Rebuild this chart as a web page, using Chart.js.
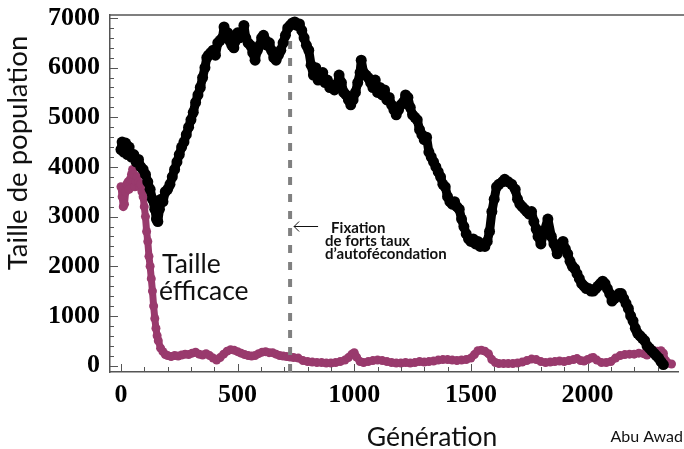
<!DOCTYPE html>
<html>
<head>
<meta charset="utf-8">
<script src="https://cdn.jsdelivr.net/npm/chart.js@4/dist/chart.umd.min.js"></script>
<style>
  html, body { margin: 0; padding: 0; background: #fff; }
  #chart { display: block; }
</style>
</head>
<body>
<canvas id="chart" width="684" height="449"></canvas>
<script>
// Census size (black) and effective size (purple) per generation
const censusGen = [0, 5, 12, 20, 28, 35, 45, 55, 65, 75, 85, 95, 105, 115, 125, 135, 145, 152, 158, 165, 172, 180, 190, 200, 210, 220, 230, 240, 250, 260, 270, 280, 290, 300, 310, 320, 330, 340, 350, 360, 368, 375, 385, 395, 405, 415, 425, 435, 442, 450, 458, 465, 475, 484, 492, 500, 508, 516, 527, 535, 545, 555, 565, 575, 585, 595, 603, 611, 620, 628, 636, 645, 655, 665, 675, 685, 695, 705, 715, 725, 735, 745, 755, 765, 775, 785, 795, 805, 815, 825, 835, 845, 855, 865, 875, 885, 895, 905, 915, 925, 935, 945, 955, 965, 975, 985, 995, 1005, 1015, 1025, 1030, 1040, 1050, 1060, 1070, 1080, 1090, 1100, 1110, 1120, 1130, 1140, 1150, 1160, 1170, 1180, 1190, 1200, 1210, 1220, 1230, 1240, 1250, 1260, 1270, 1280, 1290, 1300, 1310, 1320, 1330, 1340, 1350, 1360, 1370, 1380, 1390, 1400, 1410, 1420, 1430, 1440, 1450, 1460, 1470, 1480, 1490, 1500, 1510, 1520, 1530, 1540, 1550, 1560, 1570, 1580, 1590, 1600, 1610, 1620, 1635, 1645, 1660, 1675, 1690, 1700, 1710, 1720, 1730, 1740, 1750, 1760, 1770, 1780, 1788, 1800, 1814, 1830, 1845, 1856, 1870, 1885, 1895, 1905, 1915, 1925, 1935, 1945, 1955, 1965, 1975, 1985, 1995, 2005, 2015, 2025, 2035, 2045, 2055, 2065, 2075, 2085, 2095, 2105, 2115, 2125, 2135, 2145, 2155, 2165, 2175, 2185, 2195, 2205, 2215, 2225, 2235, 2245, 2255, 2265, 2275, 2285, 2295, 2305, 2315, 2325];
const censusSize = [4350, 4500, 4300, 4480, 4250, 4400, 4200, 4250, 4100, 4150, 4000, 3950, 3850, 3700, 3550, 3350, 3150, 2950, 2900, 3150, 3350, 3300, 3500, 3550, 3650, 3800, 3950, 4100, 4250, 4400, 4500, 4650, 4800, 4950, 5100, 5300, 5450, 5600, 5800, 6000, 6200, 6250, 6300, 6350, 6250, 6500, 6550, 6600, 6820, 6600, 6700, 6550, 6450, 6400, 6550, 6700, 6600, 6650, 6850, 6600, 6500, 6450, 6300, 6150, 6350, 6450, 6600, 6650, 6550, 6450, 6500, 6350, 6200, 6150, 6250, 6350, 6500, 6650, 6800, 6850, 6900, 6920, 6850, 6880, 6750, 6600, 6450, 6350, 6050, 5850, 6000, 5750, 5850, 5900, 5700, 5750, 5600, 5650, 5550, 5600, 5850, 5700, 5500, 5450, 5350, 5250, 5350, 5500, 5700, 5900, 6150, 5900, 5850, 5800, 5700, 5600, 5750, 5500, 5600, 5450, 5550, 5350, 5400, 5250, 5150, 5050, 5150, 5250, 5300, 5450, 5400, 5200, 5050, 5000, 4950, 4750, 4650, 4550, 4600, 4300, 4200, 4100, 4000, 3900, 3800, 3650, 3600, 3400, 3300, 3250, 3300, 3200, 3150, 2950, 2800, 2650, 2550, 2500, 2550, 2450, 2500, 2400, 2450, 2400, 2500, 2700, 3100, 3350, 3600, 3650, 3700, 3750, 3700, 3650, 3550, 3350, 3250, 3200, 3150, 3100, 3050, 3100, 2900, 2750, 2600, 2450, 2700, 2950, 2600, 2450, 2250, 2450, 2500, 2350, 2250, 2100, 2000, 1950, 1850, 1750, 1650, 1600, 1550, 1550, 1500, 1500, 1550, 1600, 1650, 1700, 1650, 1550, 1450, 1300, 1350, 1400, 1450, 1450, 1350, 1250, 1150, 1000, 900, 750, 650, 600, 550, 500, 400, 350, 300, 250, 200, 150, 80, 20, 0];

const effGen = [0, 5, 10, 15, 20, 25, 30, 35, 40, 45, 50, 55, 60, 65, 70, 75, 80, 85, 90, 95, 100, 105, 110, 115, 120, 125, 130, 135, 140, 145, 150, 155, 160, 170, 180, 190, 200, 215, 230, 245, 260, 275, 290, 305, 320, 335, 350, 365, 380, 395, 410, 425, 440, 455, 470, 485, 500, 515, 530, 545, 560, 575, 590, 605, 620, 635, 650, 665, 680, 695, 710, 725, 740, 760, 780, 800, 820, 840, 860, 880, 900, 920, 940, 960, 975, 990, 1000, 1010, 1025, 1040, 1060, 1080, 1100, 1120, 1140, 1160, 1180, 1200, 1220, 1240, 1260, 1280, 1300, 1320, 1340, 1360, 1380, 1400, 1420, 1440, 1460, 1480, 1500, 1515, 1530, 1545, 1560, 1575, 1590, 1605, 1620, 1640, 1660, 1680, 1700, 1720, 1740, 1760, 1780, 1800, 1820, 1840, 1860, 1880, 1900, 1920, 1940, 1955, 1970, 1985, 2000, 2015, 2025, 2040, 2060, 2080, 2100, 2120, 2140, 2160, 2180, 2200, 2220, 2240, 2255, 2270, 2285, 2300, 2315, 2325, 2335, 2345, 2360];
const effSize = [3600, 3400, 3200, 3250, 3500, 3650, 3700, 3550, 3750, 3850, 3950, 3850, 3600, 3700, 3800, 3700, 3600, 3650, 3500, 3400, 3200, 3000, 2700, 2500, 2200, 2000, 1750, 1500, 1200, 950, 750, 600, 500, 350, 280, 220, 200, 180, 200, 190, 210, 230, 220, 250, 270, 230, 210, 240, 200, 150, 110, 160, 230, 290, 320, 310, 280, 250, 220, 200, 190, 200, 240, 270, 280, 260, 260, 230, 200, 190, 180, 170, 160, 150, 100, 80, 70, 60, 60, 50, 50, 60, 80, 110, 160, 230, 260, 170, 80, 60, 80, 100, 110, 100, 80, 60, 50, 50, 60, 50, 60, 80, 70, 80, 90, 110, 120, 120, 110, 100, 110, 120, 150, 220, 300, 310, 290, 240, 120, 60, 40, 40, 40, 40, 50, 70, 100, 130, 120, 80, 60, 70, 80, 90, 80, 100, 120, 140, 100, 90, 120, 150, 160, 110, 60, 60, 80, 150, 200, 220, 230, 230, 250, 240, 210, 280, 300, 290, 300, 250, 100, 50, 30];

// Dashed marker: generation of fixation, drawn up to where it disappears under the census curve
const fixationGen = 725;
const fixationTop = 6600;
const xTicksLabelled = [0, 500, 1000, 1500, 2000];
const yTicksLabelled = [0, 1000, 2000, 3000, 4000, 5000, 6000, 7000];
const X_MINOR = 100, X_LAST = 2300;
const Y_MINOR = 200, Y_LAST = 7000;

const X_MIN = -47, X_MAX = 2390, Y_MIN = -130, Y_MAX = 7060;
const AXIS_COLOR = '#555';
const PURPLE = '#993a6d';

function toPoints(xs, ys) {
  return xs.map((g, i) => ({ x: g, y: ys[i] }));
}

function tickList(step, last) {
  const out = [];
  for (let v = 0; v <= last; v += step) out.push({ value: v });
  return out;
}

// Inward ticks, top border and free text
const decorations = {
  id: 'decorations',
  afterDraw(chart) {
    const { ctx, chartArea: a, scales: { x, y } } = chart;
    ctx.save();
    ctx.strokeStyle = AXIS_COLOR;
    ctx.lineWidth = 1.5;
    ctx.beginPath();
    ctx.moveTo(a.left, a.top);
    ctx.lineTo(chart.width, a.top);
    ctx.stroke();

    ctx.lineWidth = 1;
    ctx.beginPath();
    x.ticks.forEach(t => {
      const px = Math.round(x.getPixelForValue(t.value)) + 0.5;
      const len = xTicksLabelled.includes(t.value) ? 8 : 5;
      ctx.moveTo(px, a.bottom);
      ctx.lineTo(px, a.bottom - len);
    });
    y.ticks.forEach(t => {
      const py = Math.round(y.getPixelForValue(t.value)) + 0.5;
      const len = yTicksLabelled.includes(t.value) ? 8 : 4;
      ctx.moveTo(a.left, py);
      ctx.lineTo(a.left + len, py);
    });
    ctx.stroke();

    // axis titles
    ctx.fillStyle = '#111';
    ctx.font = '26.5px Lato';
    ctx.textAlign = 'center';
    ctx.textBaseline = 'alphabetic';
    ctx.fillText('Génération', 432, 446);
    ctx.save();
    ctx.translate(27, 153);
    ctx.rotate(-Math.PI / 2);
    ctx.font = '27.5px Lato';
    ctx.fillText('Taille de population', 0, 0);
    ctx.restore();

    // effective size label
    ctx.font = '26.5px Lato';
    ctx.textAlign = 'left';
    ctx.fillText('Taille', 162, 273);
    ctx.fillText('éfficace', 159, 300);

    // fixation annotation
    const fx = x.getPixelForValue(fixationGen);
    ctx.strokeStyle = '#111';
    ctx.lineWidth = 1;
    ctx.beginPath();
    ctx.moveTo(fx + 28, 226.5);
    ctx.lineTo(fx + 4, 226.5);
    ctx.moveTo(fx + 9, 221.5);
    ctx.lineTo(fx + 4, 226.5);
    ctx.lineTo(fx + 9, 231.5);
    ctx.stroke();
    ctx.font = 'bold 15px Lato';
    ctx.fillText('Fixation', fx + 41, 233);
    ctx.fillText('de forts taux', fx + 35, 246);
    ctx.fillText('d’autofécondation', fx + 35, 259);

    ctx.font = '16px Lato';
    ctx.textAlign = 'right';
    ctx.fillText('Abu Awad', 683, 442);
    ctx.restore();
  }
};

const tickFont = { family: 'Liberation Serif', size: 26, weight: 'bold' };

new Chart(document.getElementById('chart'), {
  type: 'scatter',
  data: {
    datasets: [
      {
        label: 'Taille de population',
        data: toPoints(censusGen, censusSize),
        showLine: true,
        borderColor: '#000',
        borderWidth: 9,
        borderJoinStyle: 'round',
        borderCapStyle: 'round',
        backgroundColor: '#000',
        pointRadius: 5.5,
        pointBorderWidth: 0,
        order: 1
      },
      {
        label: 'Fixation',
        data: [{ x: fixationGen, y: Y_MIN }, { x: fixationGen, y: fixationTop }],
        showLine: true,
        borderColor: '#808080',
        borderWidth: 4,
        borderDash: [8, 9],
        pointRadius: 0,
        order: 2
      },
      {
        label: 'Taille efficace',
        data: toPoints(effGen, effSize),
        showLine: true,
        borderColor: PURPLE,
        borderWidth: 7,
        borderJoinStyle: 'round',
        borderCapStyle: 'round',
        backgroundColor: PURPLE,
        pointRadius: 4.5,
        pointBorderWidth: 0,
        order: 3
      }
    ]
  },
  options: {
    responsive: false,
    animation: false,
    devicePixelRatio: 1,
    layout: { padding: { top: 15, left: 0, right: 0, bottom: 0 } },
    plugins: {
      legend: { display: false },
      tooltip: { enabled: false }
    },
    scales: {
      x: {
        type: 'linear',
        min: X_MIN,
        max: X_MAX,
        afterBuildTicks: s => { s.ticks = tickList(X_MINOR, X_LAST); },
        afterFit: s => { s.height = 77; s.paddingLeft = 0; s.paddingRight = 0; },
        grid: { drawOnChartArea: false, drawTicks: false },
        border: { display: true, color: AXIS_COLOR, width: 1.5 },
        ticks: {
          autoSkip: false,
          maxRotation: 0,
          minRotation: 0,
          padding: 8,
          color: '#000',
          font: tickFont,
          callback: v => (xTicksLabelled.includes(v) ? String(v) : '')
        }
      },
      y: {
        type: 'linear',
        min: Y_MIN,
        max: Y_MAX,
        afterBuildTicks: s => { s.ticks = tickList(Y_MINOR, Y_LAST); },
        afterFit: s => { s.width = 110; s.paddingTop = 0; s.paddingBottom = 0; },
        grid: { drawOnChartArea: false, drawTicks: false },
        border: { display: true, color: AXIS_COLOR, width: 1.5 },
        ticks: {
          autoSkip: false,
          padding: 10,
          color: '#000',
          font: tickFont,
          callback: v => (yTicksLabelled.includes(v) ? String(v) : '')
        }
      }
    }
  },
  plugins: [decorations]
});
</script>
</body>
</html>
